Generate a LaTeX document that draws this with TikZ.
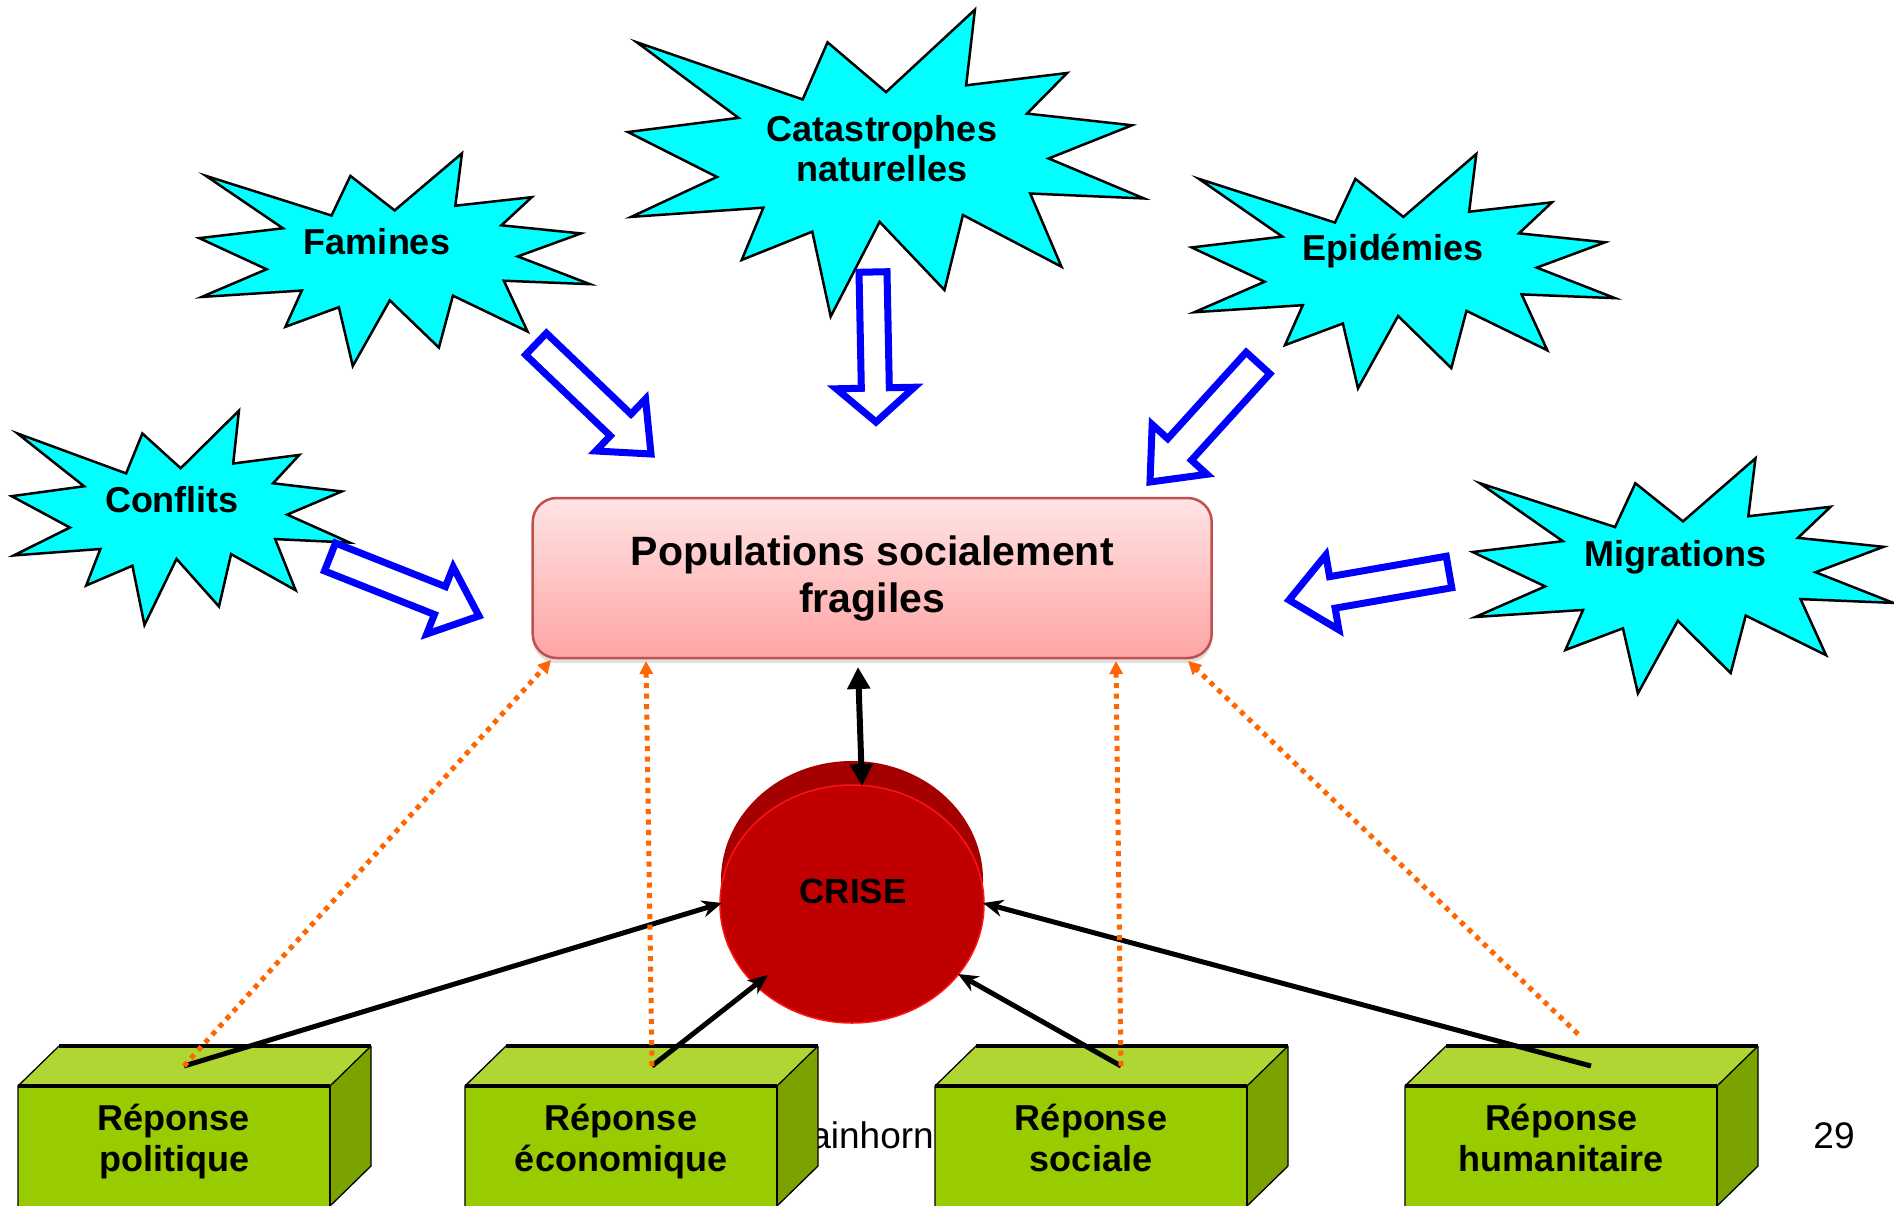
\documentclass[tikz,border=0pt]{standalone}
\usepackage{fontspec}
\setmainfont{Liberation Sans}
\usetikzlibrary{calc,arrows.meta,shadows}
\definecolor{cyanb}{RGB}{0,255,255}
\definecolor{bblue}{RGB}{0,0,255}
\definecolor{orng}{RGB}{255,102,0}
\definecolor{boxtop}{RGB}{255,228,228}
\definecolor{boxbot}{RGB}{255,164,164}
\definecolor{boxline}{RGB}{192,80,77}
\definecolor{gfront}{RGB}{153,204,0}
\definecolor{gtop}{RGB}{176,214,52}
\definecolor{gside}{RGB}{122,163,0}
\definecolor{crisered}{RGB}{192,0,0}
\definecolor{crisedark}{RGB}{165,0,0}
\definecolor{criseedge}{RGB}{255,20,20}

\newcommand\expburst[4]{%
  \begin{scope}[shift={(#1,#2)},xscale=#3/216,yscale=#4/216]
    \draw[burstshape] (108,58) -- (145.22,0) -- (141.55,53.25) -- (183.8,44.57) -- (167.02,73.15) -- (210.97,81.37) -- (176.07,104.75) -- (216,132.9) -- (168.37,129.42) -- (181.45,180.95) -- (140.2,144.57) -- (132.47,197.37) -- (105.32,149.35) -- (84.85,216) -- (77.15,156.27) -- (47.62,176.17) -- (56.67,139.37) -- (1.35,145.87) -- (37.22,117.75) -- (0,86.15) -- (46.27,76.17) -- (3.7,22.95) -- (73.12,63.2) -- (83.52,22.95) -- cycle;
  \end{scope}}

\newcommand\blockarrow[5]{% tail, tip, half shaft, half head, head length
  \coordinate (#2-base) at ($(#2)!#5!(#1)$);
  \draw[hollowarrow] ($(#1)!#3!90:(#2)$) -- ($(#2-base)!#3!90:(#2)$) -- ($(#2-base)!#4!90:(#2)$) -- (#2) -- ($(#2-base)!#4!-90:(#2)$) -- ($(#2-base)!#3!-90:(#2)$) -- ($(#1)!#3!-90:(#2)$) -- cycle;}

\newcommand\greenbox[3]{% x, name, second line
  \fill[gfront] (#1,1086) rectangle (#1+312,1215);
  \fill[gtop] (#1,1086) -- (#1+312,1086) -- (#1+353,1046) -- (#1+41,1046) -- cycle;
  \fill[gside] (#1+312,1086) -- (#1+353,1046) -- (#1+353,1166) -- (#1+312,1206) -- cycle;
  \draw[line width=1.3pt] (#1,1215) -- (#1,1086) -- (#1+41,1046);
  \draw[line width=1.3pt] (#1+353,1046) -- (#1+353,1166) -- (#1+312,1206);
  \draw[line width=1.3pt] (#1+312,1086) -- (#1+312,1215);
  \draw[line width=1.3pt] (#1+312,1086) -- (#1+353,1046);
  \draw[line width=4pt] (#1,1086) -- (#1+312,1086);
  \draw[line width=4pt] (#1+41,1046) -- (#1+353,1046);
  \node[resplabel] (#2) at (#1+156,1142) {Réponse\\#3\vphantom{q}};}

\begin{document}
\begin{tikzpicture}[x=1pt,y=-1pt,
  burstshape/.style={fill=cyanb,draw=black,line width=2.5pt},
  burstlabel/.style={font=\fontsize{36}{40}\selectfont\bfseries,align=center,inner sep=0pt},
  hollowarrow/.style={draw=bblue,fill=white,line width=7pt,line join=miter},
  resplabel/.style={font=\fontsize{36}{41}\selectfont\bfseries,align=center,inner sep=0pt},
  orangelink/.style={draw=orng,line width=5pt,dash pattern=on 5pt off 5.5pt,-{Triangle[length=13pt,width=13pt]}},
  blacklink/.style={draw=black,line width=5pt,-{Stealth[length=20pt,width=17pt]}},
  footer/.style={font=\fontsize{37}{40}\selectfont,inner sep=0pt}]
\useasboundingbox (0,0) rectangle (1894,1206);
\fill[white] (0,0) rectangle (1894,1206);

% starbursts
\expburst{199.3}{153.3}{390.7}{212.7}
\expburst{628}{9.7}{516}{306.8}
\expburst{1191.7}{154}{423.3}{234.3}
\expburst{11.7}{410.7}{338}{214.3}
\expburst{1472.7}{458.3}{420.6}{235}
\node[burstlabel] (famines) at (377,242) {Famines};
\node[burstlabel] (catas) at (882,149) {Catastrophes\\naturelles};
\node[burstlabel] (epid) at (1393,251) {Epidémies};
\node[burstlabel] (confl) at (172,500) {Conflits};
\node[burstlabel] (migr) at (1675,557) {Migrations};

% central box
\node[draw=boxline,line width=2.5pt,rounded corners=24pt,top color=boxtop,bottom color=boxbot,
  minimum width=679pt,minimum height=160pt,inner sep=0pt,
  font=\fontsize{41}{47}\selectfont\bfseries,align=center,
  drop shadow={opacity=0.25,shadow xshift=0pt,shadow yshift=-5pt}] (pop) at (872.2,578) {Populations socialement\\fragiles};

% hollow blue arrows
\coordinate (aT) at (536,344);  \coordinate (aP) at (651,454);
\coordinate (bT) at (873,272);  \coordinate (bP) at (876,422);
\coordinate (cT) at (1258,363); \coordinate (cP) at (1150,482);
\coordinate (dT) at (330,557);  \coordinate (dP) at (479,616);
\coordinate (eT) at (1449,572); \coordinate (eP) at (1289,600);
\blockarrow{aT}{aP}{15pt}{36pt}{42pt}
\blockarrow{bT}{bP}{14pt}{39pt}{34pt}
\blockarrow{cT}{cP}{16pt}{37pt}{44pt}
\blockarrow{dT}{dP}{15pt}{36pt}{42pt}
\blockarrow{eT}{eP}{16pt}{38pt}{44pt}

% footer text behind boxes
\node[footer,anchor=base east] (author) at (934,1148) {ainhorn};
\node[footer,anchor=base] (pagenum) at (1834,1148) {29};

% green boxes
\greenbox{18}{rpol}{politique}
\greenbox{465}{reco}{économique}
\greenbox{935}{rsoc}{sociale}
\greenbox{1405}{rhum}{humanitaire}

% CRISE disc
\fill[crisedark] (852,880) ellipse [x radius=131pt, y radius=119pt];
\fill[crisedark] (721,880) rectangle (983,904);
\fill[crisered] (852,904) ellipse [x radius=132pt, y radius=119pt];
\draw[criseedge,line width=1.5pt] (852,904) ellipse [x radius=132pt, y radius=119pt];
\node[font=\fontsize{35}{40}\selectfont\bfseries,inner sep=0pt] (crise) at (853,891) {CRISE};

% connection points
\coordinate (p1) at (184,1066);
\coordinate (p2) at (652,1066);
\coordinate (p3) at (1121,1066);
\coordinate (p4) at (1591,1066);
\coordinate (q4) at (1578,1034);
\coordinate (cw) at (722,903);
\coordinate (csw) at (768,975);
\coordinate (cse) at (958,974);
\coordinate (ce) at (983,903);
\coordinate (ctop) at (862,786);
\coordinate (pbot) at (858,667);
\coordinate (b1) at (551,660);
\coordinate (b2) at (646,661);
\coordinate (b3) at (1116,661);
\coordinate (b4) at (1188,661);

% black arrows
\draw[blacklink] (p1) -- (cw);
\draw[blacklink] (p2) -- (csw);
\draw[blacklink] (p3) -- (cse);
\draw[blacklink] (p4) -- (ce);
\draw[line width=6pt,{Triangle[length=22pt,width=22pt]}-{Triangle[length=22pt,width=22pt]}] (pbot) -- (ctop);

% orange dotted arrows
\draw[orangelink] (p1) -- (b1);
\draw[orangelink] (p2) -- (b2);
\draw[orangelink] (p3) -- (b3);
\draw[orangelink] (q4) -- (b4);
\end{tikzpicture}
\end{document}
